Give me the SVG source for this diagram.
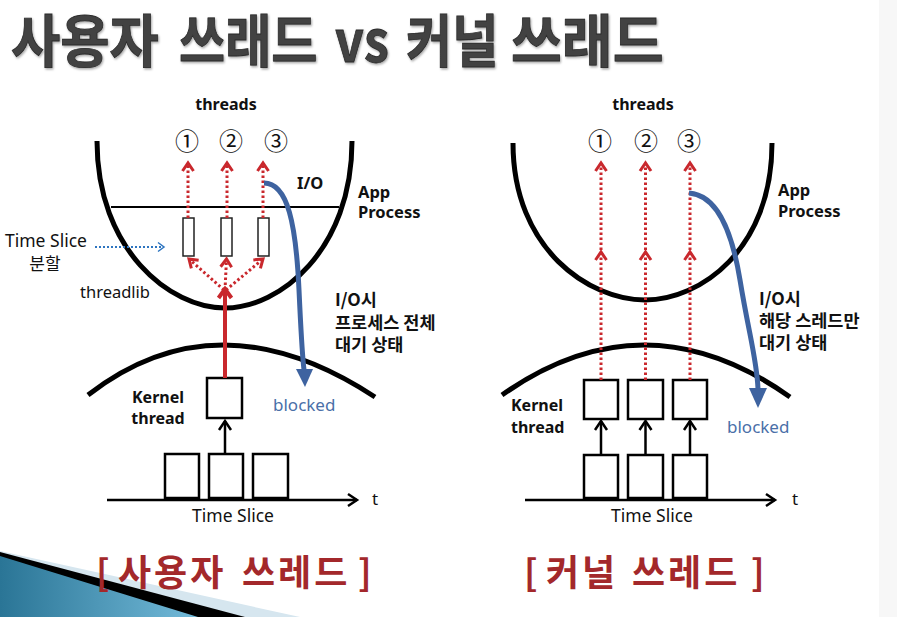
<svg xmlns="http://www.w3.org/2000/svg" width="897" height="617" viewBox="0 0 897 617">
<defs>
<style>
.lat{font-family:"Noto Sans","Noto Sans CJK KR",sans-serif;fill:#111}
.b{font-weight:bold}
.ko{font-family:"Noto Sans CJK KR","Noto Sans",sans-serif;fill:#111}
.num{font-family:"Noto Sans CJK KR",sans-serif;font-size:24px;fill:#111;text-anchor:middle}
.thick{fill:none;stroke:#000;stroke-width:5}
.box{fill:#fff;stroke:#000;stroke-width:2.5}
.slim{fill:#fff;stroke:#222;stroke-width:1.5}
.dot{fill:none;stroke:#c9282d;stroke-width:3;stroke-dasharray:2.5 2.5}
.blue{fill:none;stroke:#3e63a0;stroke-width:5}
.bk{fill:none;stroke:#000;stroke-width:2.5}
.title{font-family:"Noto Sans CJK KR","Noto Sans",sans-serif;font-weight:bold;font-size:57px;fill:#424242;stroke:#2a2a2a;stroke-width:0.8}
.red{font-family:"Noto Sans CJK KR","Noto Sans",sans-serif;font-weight:bold;font-size:36px;fill:#a3282b;letter-spacing:3px}
</style>
<marker id="rc" markerUnits="userSpaceOnUse" overflow="visible" orient="auto" refX="0" refY="0" markerWidth="1" markerHeight="1">
<path d="M-8,-5.5 L0,0 L-8,5.5" fill="none" stroke="#c9282d" stroke-width="3"/>
</marker>
<marker id="rs" markerUnits="userSpaceOnUse" overflow="visible" orient="auto" refX="0" refY="0" markerWidth="1" markerHeight="1">
<path d="M-9,-6.5 L0,0 L-9,6.5" fill="none" stroke="#c9282d" stroke-width="4"/>
</marker>
<marker id="bc" markerUnits="userSpaceOnUse" overflow="visible" orient="auto" refX="0" refY="0" markerWidth="1" markerHeight="1">
<path d="M-9,-6 L0,0 L-9,6" fill="none" stroke="#000" stroke-width="2.5"/>
</marker>
<marker id="uc" markerUnits="userSpaceOnUse" overflow="visible" orient="auto" refX="0" refY="0" markerWidth="1" markerHeight="1">
<path d="M-6,-4.5 L0,0 L-6,4.5" fill="none" stroke="#2e75c0" stroke-width="1.5"/>
</marker>
<linearGradient id="cg" x1="0" y1="0" x2="1" y2="0">
<stop offset="0" stop-color="#2a7596"/>
<stop offset="1" stop-color="#73bad9"/>
</linearGradient>
<filter id="sh" x="-5%" y="-20%" width="110%" height="140%">
<feDropShadow dx="1" dy="1.5" stdDeviation="1" flood-color="#000" flood-opacity="0.35"/>
</filter>
</defs>

<rect x="0" y="0" width="897" height="617" fill="#fff"/>
<rect x="879" y="0" width="18" height="617" fill="#f7f7f7"/>

<!-- corner decoration -->
<g id="corner">
<polygon points="0,551 300,617 0,617" fill="#d6e6ef"/>
<polygon points="0,552 245,617 0,617" fill="#000"/>
<polygon points="0,556 198,617 0,617" fill="url(#cg)"/>
</g>

<!-- title -->
<g id="title" filter="url(#sh)">
<text class="title" transform="translate(11,62) scale(0.94,1)">사용자</text>
<text class="title" transform="translate(179,62) scale(0.88,1)">쓰래드</text>
<text class="title" transform="translate(335,62) scale(0.88,1)">vs</text>
<text class="title" transform="translate(406,62) scale(0.88,1)">커널</text>
<text class="title" transform="translate(511,62) scale(0.97,1)">쓰래드</text>
</g>

<!-- ================= LEFT: user threads ================= -->
<g id="L-app">
<path class="thick" d="M97,141 C97,250 170,308 225,308 C280,308 352,250 352,141"/>
<line x1="111" y1="207" x2="339" y2="207" stroke="#000" stroke-width="2"/>
<text class="lat b" x="358" y="198" font-size="16.5">App</text>
<text class="lat b" x="358" y="218" font-size="16.5">Process</text>
</g>
<g id="L-threads">
<text class="lat b" x="226" y="110" font-size="16" text-anchor="middle">threads</text>
<text class="num" x="187" y="150">①</text>
<text class="num" x="231" y="150">②</text>
<text class="num" x="276" y="150">③</text>
</g>
<g id="L-slices">
<rect class="slim" x="183" y="218" width="11" height="38"/>
<rect class="slim" x="221" y="218" width="11" height="38"/>
<rect class="slim" x="258" y="218" width="11" height="38"/>
</g>
<g id="L-kernel">
<path class="thick" d="M88,395 Q218,294 375,397"/>
<rect class="box" x="207" y="378" width="35" height="40"/>
<text class="lat b" x="158" y="403" font-size="16" text-anchor="middle">Kernel</text>
<text class="lat b" x="158" y="424" font-size="16" text-anchor="middle">thread</text>
</g>
<g id="L-timeslice">
<rect class="box" x="165" y="454" width="34" height="44"/>
<rect class="box" x="209" y="454" width="34" height="44"/>
<rect class="box" x="253" y="454" width="35" height="44"/>
<text class="lat" x="372" y="505" font-size="17">t</text>
<text class="lat" x="233" y="522" font-size="17.5" text-anchor="middle">Time Slice</text>
</g>
<g id="L-labels">
<text class="lat b" x="297" y="189" font-size="16.5">I/O</text>
<text class="lat" x="5" y="247" font-size="17.5">Time Slice</text>
<text class="ko" x="45" y="270" font-size="17" text-anchor="middle">분할</text>
<text class="lat" x="80" y="298" font-size="16.5">threadlib</text>
<text class="ko b" x="335" y="306" font-size="17.5">I/O시</text>
<text class="ko b" x="335" y="329" font-size="17.5">프로세스 전체</text>
<text class="ko b" x="335" y="351" font-size="17.5">대기 상태</text>
<text class="lat" x="273" y="411" font-size="17" style="fill:#4a6fa8">blocked</text>
</g>

<!-- ================= RIGHT: kernel threads ================= -->
<g id="R-app">
<path class="thick" d="M513,143 C513,250 590,300 645,300 C700,300 772,250 772,143"/>
<text class="lat b" x="778" y="196" font-size="16.5">App</text>
<text class="lat b" x="778" y="217" font-size="16.5">Process</text>
</g>
<g id="R-threads">
<text class="lat b" x="643" y="110" font-size="16" text-anchor="middle">threads</text>
<text class="num" x="600" y="150">①</text>
<text class="num" x="646" y="150">②</text>
<text class="num" x="689" y="150">③</text>
</g>
<g id="R-kernel">
<path class="thick" d="M502,395 Q645,294 790,397"/>
<rect class="box" x="584" y="380" width="34" height="39"/>
<rect class="box" x="628" y="380" width="35" height="39"/>
<rect class="box" x="673" y="380" width="34" height="39"/>
<text class="lat b" x="511" y="411" font-size="16">Kernel</text>
<text class="lat b" x="511" y="433" font-size="16">thread</text>
</g>
<g id="R-timeslice">
<rect class="box" x="584" y="455" width="34" height="43"/>
<rect class="box" x="628" y="455" width="35" height="43"/>
<rect class="box" x="673" y="455" width="34" height="43"/>
<text class="lat" x="792" y="505" font-size="17">t</text>
<text class="lat" x="652" y="522" font-size="17.5" text-anchor="middle">Time Slice</text>
</g>
<g id="R-labels">
<text class="ko b" x="759" y="305" font-size="17.5">I/O시</text>
<text class="ko b" x="759" y="327" font-size="17.5">해당 스레드만</text>
<text class="ko b" x="759" y="349" font-size="17.5">대기 상태</text>
<text class="lat" x="727" y="433" font-size="17" style="fill:#4a6fa8">blocked</text>
</g>

<!-- bottom captions -->
<g id="cap-left">
<text class="red" x="96" y="586">[</text>
<text class="red" x="118" y="586">사용자</text>
<text class="red" x="242" y="586">쓰레드</text>
<text class="red" x="358" y="586">]</text>
</g>
<g id="cap-right">
<text class="red" x="524" y="586">[</text>
<text class="red" x="546" y="586">커널</text>
<text class="red" x="632" y="586">쓰레드</text>
<text class="red" x="751" y="586">]</text>
</g>

<!-- connectors -->
<g id="connectors">
<!-- left -->
<path class="dot" d="M188,218 L188,163" marker-end="url(#rc)"/>
<path class="dot" d="M227,218 L227,163" marker-end="url(#rc)"/>
<path class="dot" d="M263,218 L263,163" marker-end="url(#rc)"/>
<path class="dot" d="M224,290 L189,259" marker-end="url(#rc)"/>
<path class="dot" d="M225,290 L226.5,259" marker-end="url(#rc)"/>
<path class="dot" d="M226,290 L263,259" marker-end="url(#rc)"/>
<path d="M225,378 L225,289" fill="none" stroke="#c9282d" stroke-width="4" marker-end="url(#rs)"/>
<path d="M95,247 L164,247" fill="none" stroke="#2e75c0" stroke-width="2" stroke-dasharray="2 2" marker-end="url(#uc)"/>
<path class="blue" d="M264,183 C288,183 296,225 299,290 S303,360 304,370"/>
<polygon points="296,369 313,369 305,387" fill="#3e63a0"/>
<path class="bk" d="M225,454 L225,421" marker-end="url(#bc)"/>
<path class="bk" d="M107,500 L357,500" marker-end="url(#bc)"/>
<!-- right -->
<path class="dot" d="M601,380 L601,252 L601,163" marker-mid="url(#rc)" marker-end="url(#rc)"/>
<path class="dot" d="M645.5,380 L645.5,252 L645.5,163" marker-mid="url(#rc)" marker-end="url(#rc)"/>
<path class="dot" d="M690,380 L690,252 L690,163" marker-mid="url(#rc)" marker-end="url(#rc)"/>
<path class="blue" d="M689,193 C715,195 731,225 740,280 S757,360 758,389"/>
<polygon points="749,388 767,388 758,408" fill="#3e63a0"/>
<path class="bk" d="M601,455 L601,421" marker-end="url(#bc)"/>
<path class="bk" d="M645.5,455 L645.5,421" marker-end="url(#bc)"/>
<path class="bk" d="M690,455 L690,421" marker-end="url(#bc)"/>
<path class="bk" d="M525,500 L775,500" marker-end="url(#bc)"/>
</g>
</svg>
